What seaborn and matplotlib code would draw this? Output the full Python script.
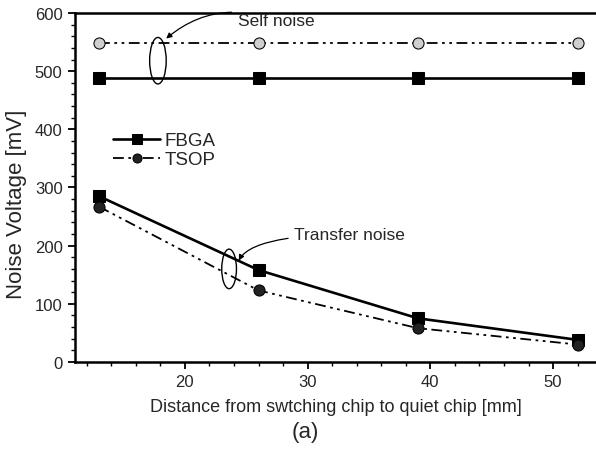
import numpy as np
import pandas as pd
import matplotlib
matplotlib.use("Agg")
import matplotlib.pyplot as plt
from matplotlib.patches import Ellipse
from matplotlib.ticker import MultipleLocator
import seaborn as sns

# Distances between switching chip and quiet chip [mm]
distance = [13, 26, 39, 52]

# Self noise [mV]
fbga_self = [488, 488, 488, 488]
tsop_self = [548, 548, 548, 548]

# Transfer noise [mV]
fbga_transfer = [285, 158, 75, 38]
tsop_transfer = [267, 123, 58, 30]

sns.set_theme(style="ticks")
plt.rcParams["font.family"] = ["Liberation Sans", "DejaVu Sans"]

self_df = pd.DataFrame({"d": distance * 2,
                        "v": fbga_self + tsop_self,
                        "pkg": ["FBGA"] * 4 + ["TSOP"] * 4})
transfer_df = pd.DataFrame({"d": distance * 2,
                            "v": fbga_transfer + tsop_transfer,
                            "pkg": ["FBGA"] * 4 + ["TSOP"] * 4})

fig = plt.figure(figsize=(5.96, 4.52), dpi=100)
ax = fig.add_axes([0.126, 0.197, 0.874, 0.772])

# FBGA: solid line, black squares
sns.lineplot(data=transfer_df[transfer_df.pkg == "FBGA"], x="d", y="v", ax=ax,
             color="black", lw=1.9, marker="s", markersize=8,
             markeredgecolor="black", label="FBGA")
sns.lineplot(data=self_df[self_df.pkg == "FBGA"], x="d", y="v", ax=ax,
             color="black", lw=1.9, marker="s", markersize=8,
             markeredgecolor="black", legend=False)

# TSOP: dash-dot line, circles
sns.lineplot(data=transfer_df[transfer_df.pkg == "TSOP"], x="d", y="v", ax=ax,
             color="black", lw=1.3, marker="o", markersize=8,
             markerfacecolor="#222222", markeredgecolor="black",
             label="TSOP")
sns.lineplot(data=self_df[self_df.pkg == "TSOP"], x="d", y="v", ax=ax,
             color="black", lw=1.3, marker="o", markersize=8,
             markerfacecolor="#cfcfcf", markeredgecolor="black",
             legend=False)
for line in ax.lines[2:4]:
    line.set_dashes([6, 2.5, 1.5, 2.5, 1.5, 2.5])

ax.set_xlim(11.05, 53.5)
ax.set_ylim(0, 600)
ax.xaxis.set_major_locator(MultipleLocator(10))
ax.xaxis.set_minor_locator(MultipleLocator(2))
ax.yaxis.set_major_locator(MultipleLocator(100))
ax.yaxis.set_minor_locator(MultipleLocator(20))
ax.tick_params(which="major", direction="out", length=5, width=1.3,
               labelsize=12, color="black", pad=4)
ax.tick_params(which="minor", direction="out", length=3, width=1.0,
               color="black")
ax.set_xticks([20, 30, 40, 50])
ax.set_xticklabels(["20", "30", "40", "50"])

for s in ["left", "bottom", "top"]:
    ax.spines[s].set_linewidth(1.8)
    ax.spines[s].set_color("black")
ax.spines["right"].set_visible(False)

ax.set_xlabel("Distance from swtching chip to quiet chip [mm]", fontsize=13,
              labelpad=6)
ax.set_ylabel("Noise Voltage [mV]", fontsize=16)
ax.yaxis.set_label_coords(-0.092, 0.455)

leg = ax.legend(loc="upper left", bbox_to_anchor=(0.073, 0.658),
                frameon=False, fontsize=13.5, handlelength=2.5,
                handletextpad=0.25, labelspacing=0.1, borderpad=0,
                borderaxespad=0)
for h in leg.legend_handles:
    h.set_markersize(6.5)

# Grouping ellipses and callouts
ax.add_patch(Ellipse((17.8, 518), 1.35, 80, fill=False, lw=1.0,
                     edgecolor="black"))
ax.add_patch(Ellipse((23.6, 160), 1.2, 68, fill=False, lw=1.0,
                     edgecolor="black"))

ax.annotate("Self noise", xy=(18.3, 553), xytext=(24.3, 587),
            fontsize=12.5, va="center", ha="left",
            arrowprops=dict(arrowstyle="-|>", color="black", lw=0.9,
                            mutation_scale=8,
                            connectionstyle="arc3,rad=0.3"))
ax.annotate("Transfer noise", xy=(24.3, 170), xytext=(28.9, 219),
            fontsize=12.5, va="center", ha="left",
            arrowprops=dict(arrowstyle="-|>", color="black", lw=0.9,
                            mutation_scale=8,
                            connectionstyle="angle3,angleA=180,angleB=70"))

fig.text(0.512, 0.044, "(a)", fontsize=16, ha="center", va="center")

fig.savefig("out.png", dpi=100)
